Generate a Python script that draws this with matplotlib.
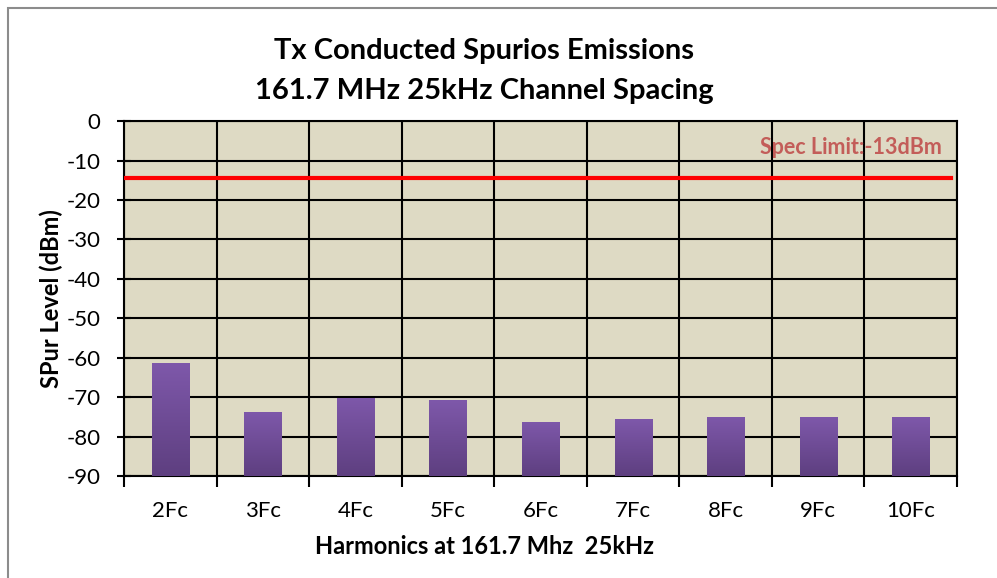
import numpy as np
import matplotlib.pyplot as plt
from matplotlib.patches import Rectangle
from matplotlib.colors import LinearSegmentedColormap

plt.rcParams['font.family'] = ['Lato', 'DejaVu Sans']

harmonics = ["2Fc", "3Fc", "4Fc", "5Fc", "6Fc", "7Fc", "8Fc", "9Fc", "10Fc"]
spur_dbm = [-61.4, -73.8, -70.1, -70.8, -76.3, -75.6, -75.0, -75.1, -75.1]
spec_limit = -14.5
y_ticks = list(range(0, -100, -10))

fig = plt.figure(figsize=(9.97, 5.78), dpi=100)
ax = fig.add_axes([0.1244, 0.1765, 0.8355, 0.614])
ax.set_facecolor("#DEDAC4")

x = np.arange(len(harmonics))
bottom = -90
bars = ax.bar(x, [v - bottom for v in spur_dbm], bottom=bottom, width=0.4,
              color="#7454A0", zorder=3)

# purple gradient on each bar
cmap = LinearSegmentedColormap.from_list("purp", ["#5E3F80", "#7E58AA"])
grad = np.linspace(0, 1, 100).reshape(-1, 1)
for b in bars:
    bx, by = b.get_x(), b.get_y()
    im = ax.imshow(grad, cmap=cmap, origin="lower", aspect="auto", zorder=4,
                   extent=[bx, bx + b.get_width(), by, by + b.get_height()])
    im.set_clip_path(b)

ax.axhline(spec_limit, xmin=0, xmax=0.993, color="#FF0000", lw=3, zorder=5)
ax.text(0.982, -6.8, "Spec Limit:-13dBm", transform=ax.get_yaxis_transform(),
        ha="right", va="center", color="#C0504D", fontsize=15.5,
        fontweight="bold", alpha=0.9, zorder=6)

ax.set_xlim(-0.5, len(harmonics) - 0.5)
ax.set_ylim(-90, 0)
ax.set_yticks(y_ticks)
ax.set_yticklabels([str(t) for t in y_ticks], fontsize=16)

ax.set_xticks(np.arange(len(harmonics) + 1) - 0.5)
ax.set_xticklabels([])
ax.set_xticks(x, minor=True)
ax.set_xticklabels(harmonics, minor=True, fontsize=16)
ax.tick_params(axis="x", which="minor", length=0, pad=18)
ax.tick_params(axis="x", which="major", direction="out", length=8, width=1.5)
ax.tick_params(axis="y", direction="inout", length=10, width=1.5, pad=12)

ax.grid(True, which="major", color="black", lw=1.5, zorder=1)
ax.set_axisbelow(True)
for s in ax.spines.values():
    s.set_color("black")
    s.set_linewidth(1.5)

ax.set_ylabel("SPur Level (dBm)", fontsize=17, fontweight="bold", labelpad=2)
ax.set_xlabel("Harmonics at 161.7 Mhz  25kHz", fontsize=17, fontweight="bold",
              labelpad=10, x=0.433)
ax.set_title("Tx Conducted Spurios Emissions\n161.7 MHz 25kHz Channel Spacing",
             fontsize=21, fontweight="bold", pad=16, linespacing=1.65, x=0.432)

fig.patches.append(Rectangle((0.008, -0.05), 1.1, 1.036, transform=fig.transFigure,
                             fill=False, edgecolor="#8C8C8C", lw=1.5))

fig.savefig("out.png", dpi=100)
